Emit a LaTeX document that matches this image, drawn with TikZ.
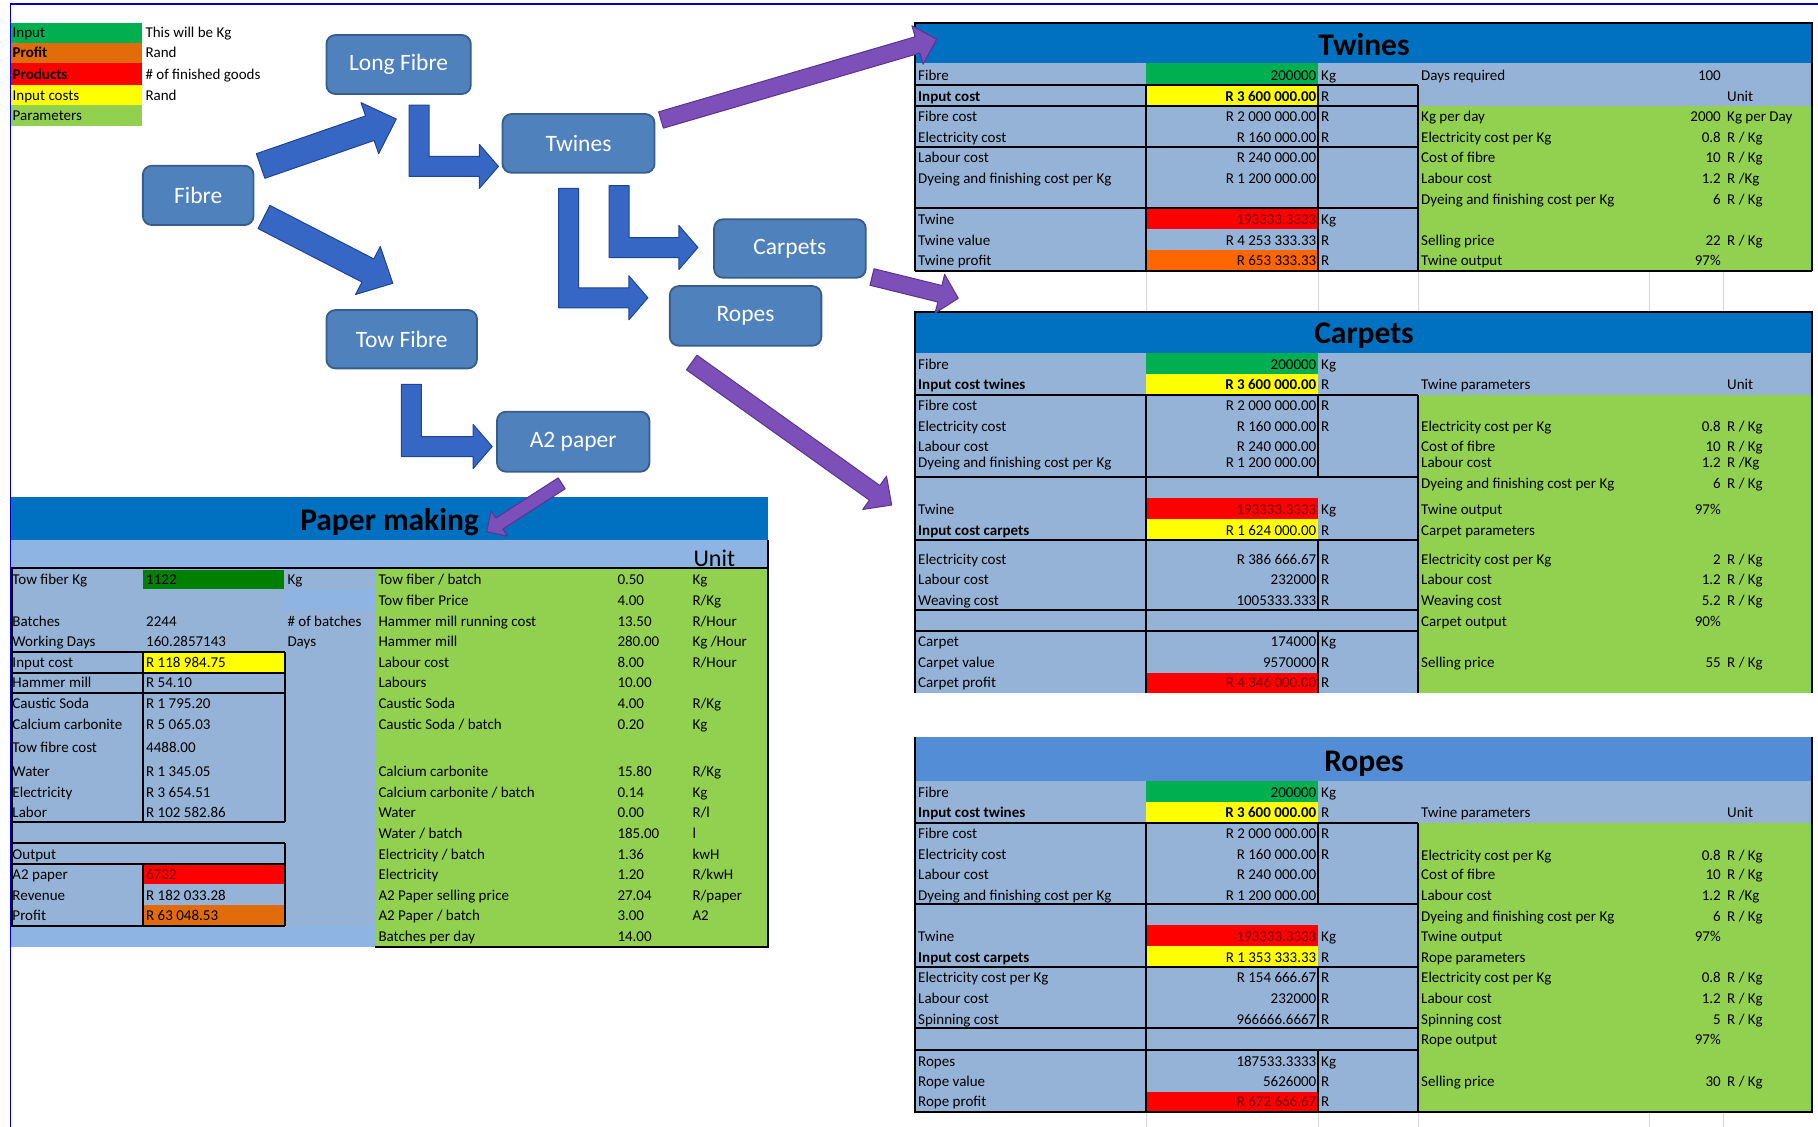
\documentclass[tikz,border=0pt]{standalone}
\usepackage{fontspec}
\setmainfont{Carlito}
\usetikzlibrary{calc}

\definecolor{hdr}{HTML}{0070C0}
\definecolor{hdrlight}{HTML}{538DD5}
\definecolor{cellblue}{HTML}{95B3D7}
\definecolor{rowblue}{HTML}{8DB4E2}
\definecolor{inpgreen}{HTML}{00B050}
\definecolor{darkgreen}{HTML}{008000}
\definecolor{profit}{HTML}{E26B0A}
\definecolor{profitb}{HTML}{FF6600}
\definecolor{prodred}{HTML}{FF0000}
\definecolor{costyel}{HTML}{FFFF00}
\definecolor{param}{HTML}{92D050}
\definecolor{redtext}{HTML}{7A0000}
\definecolor{boxfill}{HTML}{4F81BD}
\definecolor{boxline}{HTML}{385D8A}
\definecolor{arrblue}{HTML}{3767C4}
\definecolor{arrblueedge}{HTML}{1F4496}
\definecolor{arrpurple}{HTML}{7D4FB8}
\definecolor{arrpurpleedge}{HTML}{5A3590}
\definecolor{pageline}{HTML}{0000CC}
\definecolor{gridgray}{HTML}{D4D4D4}

\newcommand\tf{\fontsize{15}{17}\selectfont}

\tikzset{
  lbl/.style={anchor=west, inner sep=0pt, text height=11pt, text depth=2pt, font=\tf},
  val/.style={lbl, anchor=east},
  sheettitle/.style={anchor=base, inner sep=0pt, font=\fontsize{31.5}{36}\selectfont\bfseries},
  flow/.style={draw=boxline, line width=1.8pt, fill=boxfill, rounded corners=9pt,
    text=white, font=\fontsize{23.5}{28}\selectfont, inner sep=0pt},
  tline/.style={line width=2pt, black},
  gline/.style={line width=1pt, gridgray},
  bluearrow/.style={fill=arrblue, draw=arrblueedge, line width=1pt, line join=round},
  purplearrow/.style={fill=arrpurple, draw=arrpurpleedge, line width=1pt, line join=round},
}

% rows of the three product sheets: label / value / unit
\newcommand\lrow[5]{%
  \node[lbl] (#1-a) at (918,#2) {#3};
  \node[val] (#1-b) at (1316.5,#2) {#4};
  \node[lbl] (#1-c) at (1321,#2) {#5};}
\newcommand\lrown[4]{%
  \node[lbl] (#1-a) at (918,#2) {#3};
  \node[val] (#1-b) at (1316.5,#2) {#4};}
% parameter rows of the product sheets
\newcommand\prow[5]{%
  \node[lbl] (#1-a) at (1421,#2) {#3};
  \node[val] (#1-b) at (1721,#2) {#4};
  \node[lbl] (#1-c) at (1727,#2) {#5};}
\newcommand\prown[4]{%
  \node[lbl] (#1-a) at (1421,#2) {#3};
  \node[val] (#1-b) at (1721,#2) {#4};}
% paper making: results and parameters
\newcommand\mrow[4]{%
  \node[lbl] (#1-a) at (12.3,#2) {#3};
  \node[lbl] (#1-b) at (146,#2) {#4};}
\newcommand\qrow[5]{%
  \node[lbl] (#1-a) at (378.3,#2) {#3};
  \node[lbl] (#1-b) at (617.3,#2) {#4};
  \node[lbl] (#1-c) at (692.3,#2) {#5};}

% straight block arrow: name, style, tail, tip, half shaft, half head, head length
\newcommand\blockarrow[7]{%
  \coordinate (#1-hb) at ($(#4)!#7!(#3)$);
  \path[#2] ($(#3)!#5!90:(#4)$) -- ($(#1-hb)!#5!90:(#4)$) -- ($(#1-hb)!#6!90:(#4)$)
    -- (#4) -- ($(#1-hb)!#6!-90:(#4)$) -- ($(#1-hb)!#5!-90:(#4)$)
    -- ($(#3)!#5!-90:(#4)$) -- cycle;}
% bent block arrow: shaft x, top y, horizontal y, tip x
\newcommand\bentarrow[4]{%
  \path[bluearrow] ({#1-10},#2) -- ({#1+10},#2) -- ({#1+10},{#3-10}) -- ({#4-19},{#3-10})
    -- ({#4-19},{#3-22}) -- (#4,#3) -- ({#4-19},{#3+22}) -- ({#4-19},{#3+10})
    -- ({#1-10},{#3+10}) -- cycle;}

\begin{document}
\begin{tikzpicture}[x=1pt, y=-1pt]
\useasboundingbox (0,0) rectangle (1818,1127);
\fill[white] (0,0) rectangle (1818,1127);

% page frame
\draw[pageline, line width=1.5pt] (10.7,1127) -- (10.7,4) -- (1818,4);

% ---------------- legend ----------------
\fill[inpgreen] (11,23.3) rectangle (142,43.3);
\fill[profit] (11,43.3) rectangle (142,63.3);
\fill[prodred] (11,63.3) rectangle (142,85);
\fill[costyel] (11,85) rectangle (142,105);
\fill[param] (11,105) rectangle (142,126);
\node[lbl] (lgA) at (12.5,32.7) {Input};
\node[lbl] (lgB) at (12.5,53) {\textbf{Profit}};
\node[lbl] (lgC) at (12.5,74.5) {\textbf{Products}};
\node[lbl] (lgD) at (12.5,95.5) {Input costs};
\node[lbl] (lgE) at (12.5,116) {Parameters};
\node[lbl] (lgA2) at (145.3,32.7) {This will be Kg};
\node[lbl] (lgB2) at (145.3,53) {Rand};
\node[lbl] (lgC2) at (145.3,74.5) {\# of finished goods};
\node[lbl] (lgD2) at (145.3,95.5) {Rand};

% ---------------- Twines sheet ----------------
\fill[hdr] (915,23.3) rectangle (1812,63.3);
\fill[cellblue] (915,63.3) rectangle (1418.3,270.7);
\fill[cellblue] (1418.3,63.3) rectangle (1812,105.7);
\fill[param] (1418.3,105.7) rectangle (1812,270.7);
\fill[inpgreen] (1146,63.3) rectangle (1318.3,85);
\fill[costyel] (1146,85) rectangle (1318.3,105.7);
\fill[prodred] (1146,208.3) rectangle (1318.3,229.3);
\fill[profitb] (1146,250) rectangle (1318.3,270.7);
\foreach \yy in {85,105.7,146.7,208.3} \draw[tline] (915,\yy) -- (1418.3,\yy);
\draw[tline] (915,270.7) -- (1812,270.7);
\draw[tline] (1146,85) -- (1146,270.7);
\draw[tline] (1318.3,85) -- (1318.3,270.7);
\draw[tline] (1418.3,85) -- (1418.3,270.7);
\draw[tline] (915,270.7) -- (915,23.3) -- (1812,23.3) -- (1812,270.7);
\node[sheettitle] (twTitle) at (1364,55) {Twines};
\lrow{twA}{76}{Fibre}{200000}{Kg}
\lrow{twB}{96.7}{\textbf{Input cost}}{\textbf{R 3 600 000.00}}{R}
\lrow{twC}{117.3}{Fibre cost}{R 2 000 000.00}{R}
\lrow{twD}{138.3}{Electricity cost}{R 160 000.00}{R}
\lrown{twE}{158.3}{Labour cost}{R 240 000.00}
\lrown{twF}{179.3}{Dyeing and finishing cost per Kg}{R 1 200 000.00}
\lrow{twG}{220}{Twine}{\textcolor{redtext}{193333.3333}}{Kg}
\lrow{twH}{241}{Twine value}{R 4 253 333.33}{R}
\lrow{twI}{261}{Twine profit}{R 653 333.33}{R}
\prown{tpA}{76}{Days required}{100}
\node[lbl] (tpU) at (1727,96.7) {Unit};
\prow{tpB}{117.3}{Kg per day}{2000}{Kg per Day}
\prow{tpC}{138.3}{Electricity cost per Kg}{0.8}{R / Kg}
\prow{tpD}{158.3}{Cost of fibre}{10}{R / Kg}
\prow{tpE}{179.3}{Labour cost}{1.2}{R /Kg}
\prow{tpF}{200}{Dyeing and finishing cost per Kg}{6}{R / Kg}
\prow{tpG}{241}{Selling price}{22}{R / Kg}
\prown{tpH}{261}{Twine output}{97\%}

% sheet grid between the product sheets
\foreach \xx in {1146,1318.3,1418.3,1649.3,1723.3} {
  \draw[gline] (\xx,272) -- (\xx,310.7);
  \draw[gline] (\xx,1112.7) -- (\xx,1127);
}

% ---------------- Carpets sheet ----------------
\fill[hdr] (915,311.7) rectangle (1812,352.7);
\fill[cellblue] (915,352.7) rectangle (1418.3,692.7);
\fill[cellblue] (1418.3,352.7) rectangle (1812,395);
\fill[param] (1418.3,395) rectangle (1812,692.7);
\fill[inpgreen] (1146,353.3) rectangle (1318.3,374);
\fill[costyel] (1146,374) rectangle (1318.3,395);
\fill[prodred] (1146,497.7) rectangle (1318.3,519);
\fill[costyel] (1146,519) rectangle (1318.3,540);
\fill[prodred] (1146,672.7) rectangle (1318.3,692.7);
\foreach \yy in {395,476.7,540,610,631} \draw[tline] (915,\yy) -- (1418.3,\yy);
\draw[tline] (1146,395) -- (1146,692.7);
\draw[tline] (1318.3,395) -- (1318.3,476.7);
\draw[tline] (1318.3,540) -- (1318.3,610);
\draw[tline] (1318.3,631) -- (1318.3,692.7);
\draw[tline] (1418.3,395) -- (1418.3,692.7);
\draw[tline] (915,692.7) -- (915,311.7) -- (1812,311.7) -- (1812,692.7);
\node[sheettitle] (caTitle) at (1364,343.3) {Carpets};
\lrow{caA}{365}{Fibre}{200000}{Kg}
\lrow{caB}{385.3}{\textbf{Input cost twines}}{\textbf{R 3 600 000.00}}{R}
\lrow{caC}{406}{Fibre cost}{R 2 000 000.00}{R}
\lrow{caD}{426.7}{Electricity cost}{R 160 000.00}{R}
\lrown{caE}{447.3}{Labour cost}{R 240 000.00}
\lrown{caF}{463.3}{Dyeing and finishing cost per Kg}{R 1 200 000.00}
\lrow{caG}{510}{Twine}{\textcolor{redtext}{193333.3333}}{Kg}
\lrow{caH}{531.3}{\textbf{Input cost carpets}}{R 1 624 000.00}{R}
\lrow{caI}{560}{Electricity cost}{R 386 666.67}{R}
\lrow{caJ}{580}{Labour cost}{232000}{R}
\lrow{caK}{601}{Weaving cost}{1005333.333}{R}
\lrow{caL}{642.3}{Carpet}{174000}{Kg}
\lrow{caM}{663.3}{Carpet value}{9570000}{R}
\lrow{caN}{683.3}{Carpet profit}{\textcolor{redtext}{R 4 346 000.00}}{R}
\node[lbl] (cpT) at (1421,385.3) {Twine parameters};
\node[lbl] (cpU) at (1727,385.3) {Unit};
\prow{cpA}{426.7}{Electricity cost per Kg}{0.8}{R / Kg}
\prow{cpB}{447.3}{Cost of fibre}{10}{R / Kg}
\prow{cpC}{463.3}{Labour cost}{1.2}{R /Kg}
\prow{cpD}{484.3}{Dyeing and finishing cost per Kg}{6}{R / Kg}
\prown{cpE}{510}{Twine output}{97\%}
\node[lbl] (cpF) at (1421,531.3) {Carpet parameters};
\prow{cpG}{560}{Electricity cost per Kg}{2}{R / Kg}
\prow{cpH}{580}{Labour cost}{1.2}{R / Kg}
\prow{cpI}{601}{Weaving cost}{5.2}{R / Kg}
\prown{cpJ}{622.3}{Carpet output}{90\%}
\prow{cpK}{663.3}{Selling price}{55}{R / Kg}

% ---------------- Ropes sheet ----------------
\fill[hdrlight] (915,736.7) rectangle (1812,780.7);
\fill[cellblue] (915,780.7) rectangle (1418.3,1111.7);
\fill[cellblue] (1418.3,780.7) rectangle (1812,822.7);
\fill[param] (1418.3,822.7) rectangle (1812,1111.7);
\fill[inpgreen] (1146,781) rectangle (1318.3,801.7);
\fill[costyel] (1146,801.7) rectangle (1318.3,822.7);
\fill[prodred] (1146,925) rectangle (1318.3,946);
\fill[costyel] (1146,946) rectangle (1318.3,966.7);
\fill[prodred] (1146,1091.7) rectangle (1318.3,1111.7);
\foreach \yy in {822.7,904.3,966.7,1028.3,1050} \draw[tline] (915,\yy) -- (1418.3,\yy);
\draw[tline] (1146,822.7) -- (1146,1111.7);
\draw[tline] (1318.3,822.7) -- (1318.3,904.3);
\draw[tline] (1318.3,966.7) -- (1318.3,1028.3);
\draw[tline] (1318.3,1050) -- (1318.3,1111.7);
\draw[tline] (1418.3,822.7) -- (1418.3,1111.7);
\draw[tline] (915,736.7) -- (915,1111.7) -- (1812,1111.7) -- (1812,736.7);
\node[sheettitle] (roTitle) at (1364,771.7) {Ropes};
\lrow{roA}{793}{Fibre}{200000}{Kg}
\lrow{roB}{813.3}{\textbf{Input cost twines}}{\textbf{R 3 600 000.00}}{R}
\lrow{roC}{834}{Fibre cost}{R 2 000 000.00}{R}
\lrow{roD}{855}{Electricity cost}{R 160 000.00}{R}
\lrown{roE}{875}{Labour cost}{R 240 000.00}
\lrown{roF}{896}{Dyeing and finishing cost per Kg}{R 1 200 000.00}
\lrow{roG}{937.3}{Twine}{\textcolor{redtext}{193333.3333}}{Kg}
\lrow{roH}{958.3}{\textbf{Input cost carpets}}{R 1 353 333.33}{R}
\lrow{roI}{978.3}{Electricity cost per Kg}{R 154 666.67}{R}
\lrow{roJ}{999}{Labour cost}{232000}{R}
\lrow{roK}{1020}{Spinning cost}{966666.6667}{R}
\lrow{roL}{1061.7}{Ropes}{187533.3333}{Kg}
\lrow{roM}{1082.3}{Rope value}{5626000}{R}
\lrow{roN}{1102}{Rope profit}{\textcolor{redtext}{R 672 666.67}}{R}
\node[lbl] (rpT) at (1421,813.3) {Twine parameters};
\node[lbl] (rpU) at (1727,813.3) {Unit};
\prow{rpA}{855.7}{Electricity cost per Kg}{0.8}{R / Kg}
\prow{rpB}{875}{Cost of fibre}{10}{R / Kg}
\prow{rpC}{896}{Labour cost}{1.2}{R /Kg}
\prow{rpD}{916.7}{Dyeing and finishing cost per Kg}{6}{R / Kg}
\prown{rpE}{937.3}{Twine output}{97\%}
\node[lbl] (rpF) at (1421,958.3) {Rope parameters};
\prow{rpG}{978.3}{Electricity cost per Kg}{0.8}{R / Kg}
\prow{rpH}{999.3}{Labour cost}{1.2}{R / Kg}
\prow{rpI}{1020}{Spinning cost}{5}{R / Kg}
\prown{rpJ}{1040}{Rope output}{97\%}
\prow{rpK}{1082.3}{Selling price}{30}{R / Kg}

% ---------------- Paper making sheet ----------------
\fill[hdr] (10.7,497.3) rectangle (768.3,540);
\fill[rowblue] (10.7,540) rectangle (768.3,568.3);
\fill[cellblue] (10.7,568.3) rectangle (375,925.7);
\fill[rowblue] (284,589) rectangle (375,610);
\fill[rowblue] (10.7,925.7) rectangle (375,946.7);
\fill[param] (375,568.3) rectangle (768.3,946.7);
\fill[darkgreen] (143.3,570) rectangle (284,589);
\fill[costyel] (143.3,652.3) rectangle (284,672.7);
\fill[prodred] (143.3,865) rectangle (284,884.3);
\fill[profit] (143.3,905) rectangle (284,925);
\draw[tline] (10.7,568.3) -- (768.3,568.3);
\foreach \yy in {652.3,672.7,692.7,822.3,843.3,864,925.7} \draw[tline] (10.7,\yy) -- (285,\yy);
\draw[tline] (143.3,652.3) -- (143.3,822.3);
\draw[tline] (143.3,864) -- (143.3,925.7);
\draw[tline] (285,652.3) -- (285,822.3);
\draw[tline] (285,843.3) -- (285,925.7);
\draw[tline] (11.5,568.3) -- (11.5,925.7);
\draw[tline] (768.3,540) -- (768.3,946.7) -- (375,946.7);
\node[sheettitle] (pmTitle) at (389.6,530) {Paper making};
\node[anchor=base west, inner sep=0pt, font=\fontsize{24}{28}\selectfont] (pmUnit) at (693.3,566) {Unit};
\mrow{pmA}{580}{Tow fiber Kg}{1122}
\node[lbl] (pmA-c) at (287.3,580) {Kg};
\mrow{pmB}{622.3}{Batches}{2244}
\node[lbl] (pmB-c) at (287.3,622.3) {\# of batches};
\mrow{pmC}{642.3}{Working Days}{160.2857143}
\node[lbl] (pmC-c) at (287.3,642.3) {Days};
\mrow{pmD}{663.3}{Input cost}{R 118 984.75}
\mrow{pmE}{683.3}{Hammer mill}{R 54.10}
\mrow{pmF}{704.3}{Caustic Soda}{R 1 795.20}
\mrow{pmG}{725.3}{Calcium carbonite}{R 5 065.03}
\mrow{pmH}{748.3}{Tow fibre cost}{4488.00}
\mrow{pmI}{772.3}{Water}{R 1 345.05}
\mrow{pmJ}{793.3}{Electricity}{R 3 654.51}
\mrow{pmK}{813.3}{Labor}{R 102 582.86}
\node[lbl] (pmL) at (12.3,855) {Output};
\mrow{pmM}{875}{A2 paper}{\textcolor{redtext}{6732}}
\mrow{pmN}{896}{Revenue}{R 182 033.28}
\mrow{pmO}{916}{Profit}{R 63 048.53}
\qrow{pqA}{580}{Tow fiber / batch}{0.50}{Kg}
\qrow{pqB}{601}{Tow fiber Price}{4.00}{R/Kg}
\qrow{pqC}{622.3}{Hammer mill running cost}{13.50}{R/Hour}
\qrow{pqD}{642.3}{Hammer mill}{280.00}{Kg /Hour}
\qrow{pqE}{663.3}{Labour cost}{8.00}{R/Hour}
\node[lbl] (pqF-a) at (378.3,683.3) {Labours};
\node[lbl] (pqF-b) at (617.3,683.3) {10.00};
\qrow{pqG}{704.3}{Caustic Soda}{4.00}{R/Kg}
\qrow{pqH}{725}{Caustic Soda / batch}{0.20}{Kg}
\qrow{pqI}{772.3}{Calcium carbonite}{15.80}{R/Kg}
\qrow{pqJ}{793.3}{Calcium carbonite / batch}{0.14}{Kg}
\qrow{pqK}{813.3}{Water}{0.00}{R/l}
\qrow{pqL}{834.3}{Water / batch}{185.00}{l}
\qrow{pqM}{855}{Electricity / batch}{1.36}{kwH}
\qrow{pqN}{875}{Electricity}{1.20}{R/kwH}
\qrow{pqO}{896}{A2 Paper selling price}{27.04}{R/paper}
\qrow{pqP}{916}{A2 Paper / batch}{3.00}{A2}
\node[lbl] (pqQ-a) at (378.3,936.7) {Batches per day};
\node[lbl] (pqQ-b) at (617.3,936.7) {14.00};

% ---------------- process flow ----------------
\node[flow, minimum width=110.7pt, minimum height=59.3pt] (fibre) at (198.2,195.4) {Fibre};
\node[flow, minimum width=144.4pt, minimum height=59pt] (longfibre) at (398.6,64.5) {Long Fibre};
\node[flow, minimum width=152pt, minimum height=58.7pt] (twines) at (578.5,143.4) {Twines};
\node[flow, minimum width=151.7pt, minimum height=58.4pt] (carpets) at (789.9,248.5) {Carpets};
\node[flow, minimum width=151.5pt, minimum height=59.7pt] (ropes) at (745.6,315.9) {Ropes};
\node[flow, minimum width=150.6pt, minimum height=58.3pt] (towfibre) at (401.7,339.2) {Tow Fibre};
\node[flow, minimum width=152.4pt, minimum height=60pt] (atwo) at (573.2,441.7) {A2 paper};

% Fibre splits into long and tow fibre
\coordinate (aLs) at (260.6,166);
\coordinate (aLe) at (396.3,119);
\coordinate (aTs) at (264,217);
\coordinate (aTe) at (392.8,283.3);
\blockarrow{aL}{bluearrow}{aLs}{aLe}{13pt}{27pt}{28pt}
\blockarrow{aT}{bluearrow}{aTs}{aTe}{13pt}{27pt}{28pt}
% processing steps
\bentarrow{419}{105}{166.4}{498.4}
\bentarrow{619}{185.7}{247.5}{697.9}
\bentarrow{568.7}{188.3}{297.8}{647.9}
\bentarrow{411.4}{384.3}{446.5}{492.2}

% products to their costing sheets
\coordinate (pTs) at (661,120);
\coordinate (pTe) at (936.7,39.3);
\coordinate (pCs) at (872,277);
\coordinate (pCe) at (958.3,298.3);
\coordinate (pRs) at (691.7,362.5);
\coordinate (pRe) at (891.7,505);
\coordinate (pPs) at (561.7,483.3);
\coordinate (pPe) at (486.7,531.7);
\blockarrow{pT}{purplearrow}{pTs}{pTe}{8.5pt}{20pt}{20pt}
\blockarrow{pC}{purplearrow}{pCs}{pCe}{8.5pt}{20pt}{19pt}
\blockarrow{pR}{purplearrow}{pRs}{pRe}{9pt}{20.5pt}{21pt}
\blockarrow{pP}{purplearrow}{pPs}{pPe}{6.5pt}{15pt}{15pt}
\end{tikzpicture}
\end{document}
